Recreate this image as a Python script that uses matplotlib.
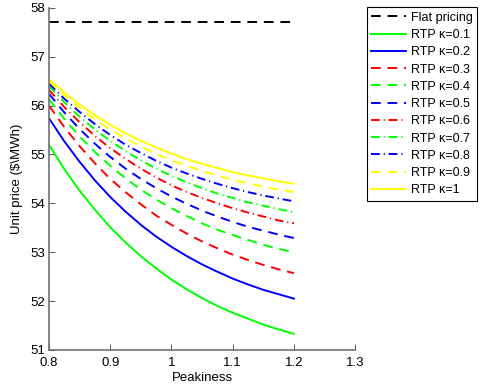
import matplotlib

matplotlib.use("Agg")
import matplotlib.pyplot as plt

plt.rcParams["font.family"] = ["Liberation Sans", "DejaVu Sans"]

# peakiness values (x axis)
peakiness = [0.8, 0.825, 0.85, 0.875, 0.9, 0.925, 0.95, 0.975, 1.0,
             1.025, 1.05, 1.075, 1.1, 1.125, 1.15, 1.175, 1.2]

flat_price = 57.72

# unit price ($/MWh) for real-time pricing, one list per kappa
rtp_01 = [55.20, 54.70, 54.26, 53.87, 53.51, 53.20, 52.92, 52.67, 52.44,
          52.24, 52.06, 51.90, 51.76, 51.64, 51.52, 51.42, 51.33]
rtp_02 = [55.74, 55.27, 54.85, 54.47, 54.13, 53.83, 53.56, 53.32, 53.11,
          52.92, 52.75, 52.60, 52.46, 52.34, 52.23, 52.14, 52.05]
rtp_03 = [56.00, 55.56, 55.17, 54.82, 54.50, 54.23, 53.98, 53.75, 53.56,
          53.38, 53.22, 53.08, 52.95, 52.84, 52.74, 52.65, 52.57]
rtp_04 = [56.13, 55.73, 55.37, 55.05, 54.77, 54.51, 54.28, 54.08, 53.90,
          53.74, 53.59, 53.46, 53.35, 53.25, 53.15, 53.07, 53.00]
rtp_05 = [56.24, 55.86, 55.52, 55.22, 54.95, 54.71, 54.50, 54.31, 54.14,
          53.99, 53.85, 53.73, 53.62, 53.52, 53.44, 53.36, 53.29]
rtp_06 = [56.32, 55.97, 55.66, 55.38, 55.13, 54.91, 54.71, 54.53, 54.37,
          54.23, 54.11, 54.00, 53.90, 53.81, 53.73, 53.65, 53.59]
rtp_07 = [56.40, 56.07, 55.77, 55.51, 55.28, 55.07, 54.88, 54.71, 54.56,
          54.43, 54.31, 54.20, 54.11, 54.02, 53.95, 53.88, 53.82]
rtp_08 = [56.45, 56.14, 55.87, 55.62, 55.40, 55.20, 55.03, 54.87, 54.73,
          54.61, 54.50, 54.40, 54.31, 54.23, 54.16, 54.10, 54.04]
rtp_09 = [56.50, 56.21, 55.95, 55.72, 55.51, 55.33, 55.16, 55.01, 54.88,
          54.77, 54.66, 54.57, 54.48, 54.41, 54.34, 54.28, 54.23]
rtp_10 = [56.54, 56.27, 56.02, 55.80, 55.61, 55.43, 55.28, 55.14, 55.02,
          54.90, 54.81, 54.72, 54.64, 54.57, 54.51, 54.45, 54.40]

kappa_labels = ["0.1", "0.2", "0.3", "0.4", "0.5", "0.6", "0.7", "0.8", "0.9", "1"]
rtp_series = [rtp_01, rtp_02, rtp_03, rtp_04, rtp_05,
              rtp_06, rtp_07, rtp_08, rtp_09, rtp_10]

x_ticks = [0.8, 0.9, 1.0, 1.1, 1.2, 1.3]
x_tick_labels = ["0.8", "0.9", "1", "1.1", "1.2", "1.3"]
y_ticks = [51, 52, 53, 54, 55, 56, 57, 58]

DASH = (0, (5, 3.5))
DASHDOT = (0, (4.5, 2, 0.6, 2))
styles = [
    ("#00ff00", "-"),
    ("#0000ff", "-"),
    ("#ff0000", DASH),
    ("#00ff00", DASH),
    ("#0000ff", DASH),
    ("#ff0000", DASHDOT),
    ("#00ff00", DASHDOT),
    ("#0000ff", DASHDOT),
    ("#ffff00", DASH),
    ("#ffff00", "-"),
]

fig = plt.figure(figsize=(4.8, 3.91), dpi=100)
ax = fig.add_axes([0.102, 0.105, 0.638, 0.875])

ax.plot([peakiness[0], peakiness[-1]], [flat_price, flat_price],
        color="black", linestyle=DASH, linewidth=1.4, label="Flat pricing")
for values, kappa, (color, ls) in zip(rtp_series, kappa_labels, styles):
    ax.plot(peakiness, values, color=color, linestyle=ls, linewidth=1.4,
            label="RTP κ=" + kappa)

ax.set_xlim(0.8, 1.3)
ax.set_ylim(51, 58)
ax.set_xticks(x_ticks)
ax.set_xticklabels(x_tick_labels)
ax.set_yticks(y_ticks)
ax.tick_params(direction="in", length=4, width=0.8, color="#606060",
               labelsize=9.5)
ax.tick_params(axis="x", pad=5)
ax.tick_params(axis="y", pad=3)
ax.spines["top"].set_visible(False)
ax.spines["right"].set_visible(False)
for side in ("left", "bottom"):
    ax.spines[side].set_color("#707070")
    ax.spines[side].set_linewidth(1.2)

ax.set_xlabel("Peakiness", fontsize=9.5, labelpad=2)
ax.set_ylabel("Unit price ($\\MWh)", fontsize=9.5, labelpad=5)

leg = fig.legend(loc="upper left", bbox_to_anchor=(0.764, 0.981),
                 fontsize=9, handlelength=2.8, handletextpad=0.4,
                 labelspacing=0.42, borderpad=0.35, borderaxespad=0,
                 fancybox=False, framealpha=1)
leg.get_frame().set_edgecolor("black")
leg.get_frame().set_linewidth(0.8)

fig.savefig("out.png", dpi=100)
